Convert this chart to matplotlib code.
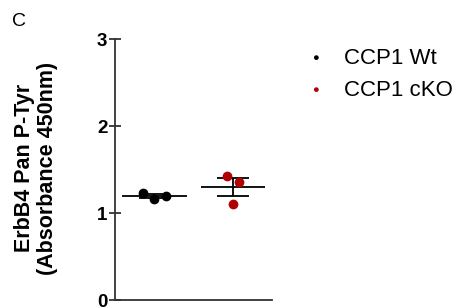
import matplotlib.pyplot as plt
import numpy as np

plt.rcParams['font.family'] = ['Liberation Sans', 'DejaVu Sans']

# data
groups = ['CCP1 Wt', 'CCP1 cKO']
colors = ['black', '#B00000']
wt_vals = [1.23, 1.16, 1.20]
cko_vals = [1.43, 1.36, 1.10]
jitter = [-0.15, 0.0, 0.15]
cko_jitter = [-0.08, 0.08, 0.0]

fig = plt.figure(figsize=(4.56, 3.07), dpi=100)
ax = fig.add_axes([0.2522, 0.0228, 0.345, 0.850])

for i, (vals, jit, c) in enumerate([(wt_vals, jitter, colors[0]), (cko_vals, cko_jitter, colors[1])]):
    x0 = i + 1
    vals = np.array(vals)
    ax.plot(x0 + np.array(jit), vals, 'o', color=c, ms=6, zorder=3)
    m = vals.mean()
    sem = vals.std(ddof=1) / np.sqrt(len(vals))
    ax.hlines(m, x0 - 0.41, x0 + 0.41, color='black', lw=1.3, zorder=2)
    ax.hlines([m - sem, m + sem], x0 - 0.2, x0 + 0.2, color='black', lw=1.3, zorder=2)
    ax.vlines(x0, m - sem, m + sem, color='black', lw=1.3, zorder=2)

ax.set_xlim(0.5, 2.5)
ax.set_ylim(0, 3)
ax.set_yticks([0, 1, 2, 3])
ax.set_xticks([])
for s in ['top', 'right']:
    ax.spines[s].set_visible(False)
for s in ['left', 'bottom']:
    ax.spines[s].set_linewidth(1.3)
    ax.spines[s].set_color('#333333')
ax.tick_params(axis='y', direction='inout', length=9, width=1.3, color='#333333',
               labelsize=13.5, pad=1)
for t in ax.get_yticklabels():
    t.set_fontweight('bold')

# y label, two lines
fig.text(36 / 456, 1 - 168 / 307, 'ErbB4 Pan P-Tyr\n(Absorbance 450nm)', rotation=90,
         fontsize=15.5, fontweight='bold', ha='center', va='center',
         multialignment='center', linespacing=1.1)

for i, (g, c) in enumerate(zip(groups, colors)):
    fig.text(315 / 456, 1 - (58 + 32 * i) / 307, '\u25CF', color=c, fontsize=8,
             ha='center', va='center')
    fig.text(344 / 456, 1 - (58 + 32 * i) / 307, g, fontsize=16, ha='left', va='center')

fig.text(12 / 456, 1 - 21 / 307, 'C', fontsize=14, ha='left', va='center')

plt.savefig('out.png', dpi=100)
